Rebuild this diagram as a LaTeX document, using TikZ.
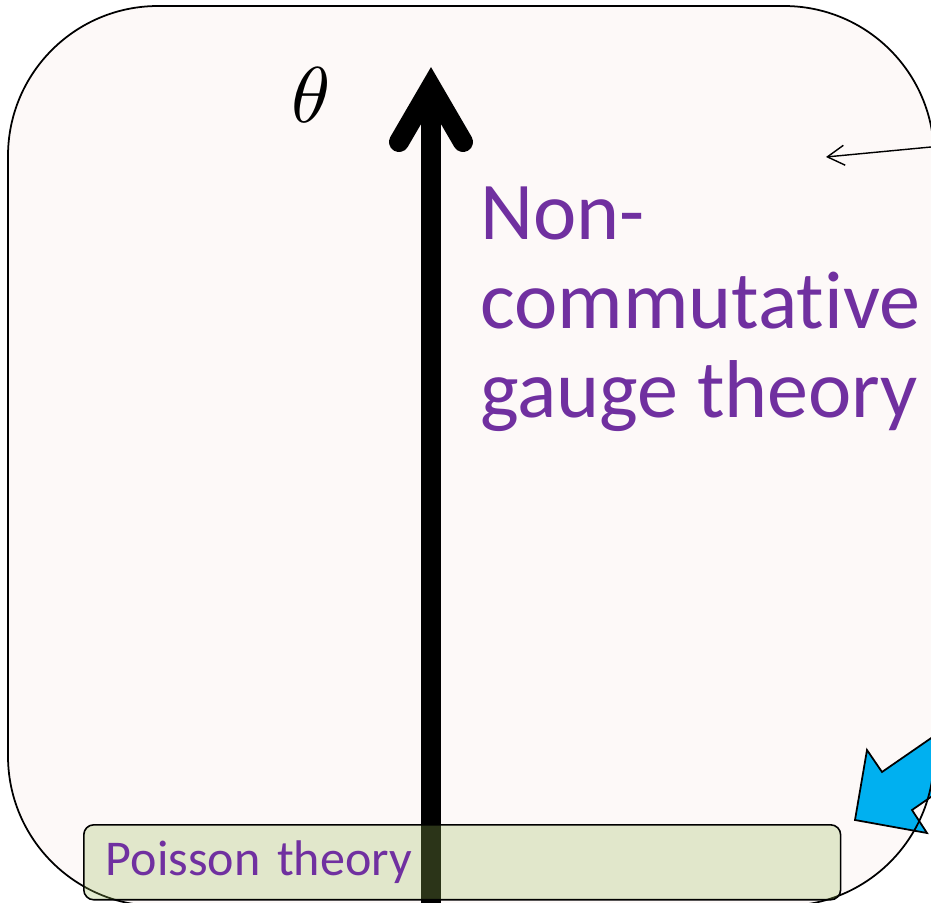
\documentclass[tikz,border=0pt]{standalone}
\usepackage{fontspec}
\usepackage{tikz}
\usetikzlibrary{arrows.meta}
\newfontfamily\slidefont[Ligatures=NoCommon]{Carlito}
\definecolor{ncpurple}{HTML}{7030A0}
\definecolor{regionfill}{HTML}{FDF9F8}
\definecolor{poissongreen}{HTML}{9BBB59}
\definecolor{calloutblue}{HTML}{00B0F0}

\begin{document}
\begin{tikzpicture}[x=0.02cm,y=-0.02cm,
  poissonbox/.style={draw=black,line width=0.9pt,fill=poissongreen,fill opacity=0.28,
    text opacity=1,rounded corners=0.2cm,minimum width=15.14cm,minimum height=1.5cm,
    text width=14.26cm,align=left,inner xsep=0.44cm,inner ysep=0pt,
    font=\slidefont\fontsize{28.5pt}{35pt}\selectfont,text=ncpurple},
  nclabel/.style={inner sep=0pt,align=left,text=ncpurple,
    font=\slidefont\fontsize{46.7pt}{50.5pt}\selectfont},
  axisline/.style={black,line width=11.4pt}]

\useasboundingbox (0,0) rectangle (931,903);
\clip (0,0) rectangle (931,903);

% ===== Region =====
\fill[regionfill,rounded corners=3cm] (8,6) rectangle (934,906);

% Callout arrow (bottom right)
\filldraw[fill=calloutblue,draw=black,line width=1pt]
  (855,820) -- (867,750) -- (882,772) -- (966,714) -- (996,752) -- (912,810) -- (927,833) -- cycle;

\draw[black,line width=1pt,rounded corners=3cm] (8,6) rectangle (934,906);

% ===== Theta axis =====
\draw[axisline] (431,910) -- (431,95);
\draw[axisline,line cap=round,line join=miter] (399,142) -- (431,87) -- (463,142);

% ===== Poisson limit =====
\node[poissonbox,anchor=north west] (poisson) at (83,824) {Poisson theory};

% ===== Labels =====
\node[inner sep=0pt,scale=4.5] (theta) at (311,95) {$\theta$};
\node[nclabel,anchor=north west] (nctheory) at (480,187) {Non-\\commutative\\gauge theory};

% Pointer from the right
\coordinate (ptrstart) at (931,147);
\coordinate (ptrend) at (826,157);
\draw[-{Straight Barb[length=3.4mm,width=4mm]},line width=0.8pt] (ptrstart) -- (ptrend);

\end{tikzpicture}
\end{document}
